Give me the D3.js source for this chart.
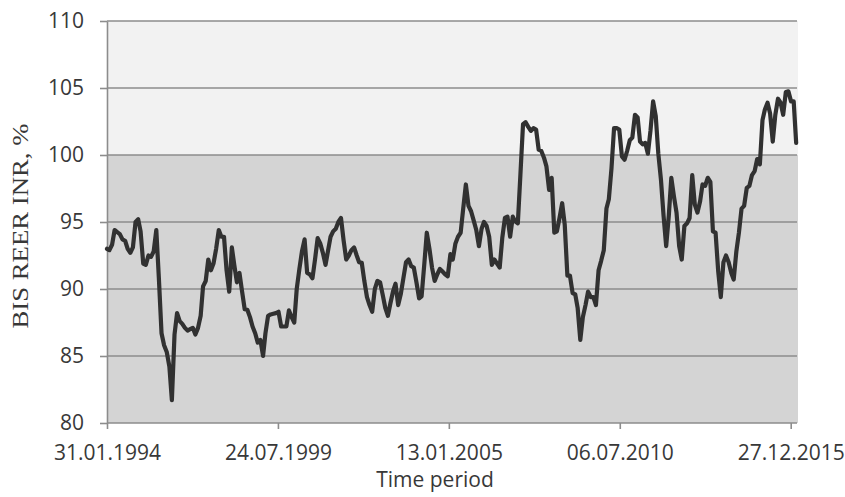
<!DOCTYPE html>
<html>
<head>
<meta charset="utf-8">
<script src="https://cdn.jsdelivr.net/npm/d3@7"></script>
<style>
  html, body { margin: 0; padding: 0; background: #ffffff; }
  svg { display: block; }
</style>
</head>
<body>
<script>
// ---- Data (monthly, end of month, starting 31.01.1994) ----
const startMonth = "1994-01";
const reer1994_1999 = [
  93.0, 92.9, 93.3, 94.4, 94.25, 94.1, 93.7, 93.6, 93.0, 92.7, 93.1, 95.0,
  95.2, 94.3, 91.9, 91.8, 92.5, 92.4, 92.8, 94.4, 90.8, 86.7, 85.8, 85.3,
  84.2, 81.7, 86.6, 88.2, 87.6, 87.4, 87.1, 86.9, 87.0, 87.1, 86.6, 87.1,
  88.0, 90.2, 90.6, 92.2, 91.4, 91.9, 93.0, 94.4, 93.9, 93.9, 91.4, 89.8,
  93.1, 91.8, 90.5, 91.2, 89.8, 88.5, 88.45, 87.9, 87.2, 86.7, 86.0, 86.2,
  85.0, 86.7, 88.0, 88.1, 88.15, 88.2, 88.3, 87.2, 87.2, 87.2, 88.4, 87.9
];
const reer2000_2005 = [
  87.5, 90.0, 91.5, 92.8, 93.7, 91.2, 91.1, 90.8, 92.2, 93.8, 93.4, 92.7,
  91.8, 92.8, 93.9, 94.3, 94.5, 95.0, 95.3, 93.6, 92.2, 92.5, 92.9, 93.1,
  92.5, 92.0, 91.95, 90.6, 89.4, 88.8, 88.3, 90.0, 90.6, 90.5, 89.6, 88.6,
  88.0, 88.9, 89.8, 90.4, 88.8, 89.6, 90.8, 92.0, 92.2, 91.7, 91.6, 90.5,
  89.3, 89.45, 91.8, 94.2, 93.0, 91.6, 90.6, 91.1, 91.5, 91.3, 91.1, 90.95,
  92.6, 92.2, 93.4, 93.9, 94.2, 96.0, 97.8, 96.2, 95.8, 95.1, 94.4, 93.2
];
const reer2006_2011 = [
  94.5, 95.0, 94.7, 93.9, 91.8, 92.2, 91.9, 91.6, 93.8, 95.3, 95.4, 93.9,
  95.4, 95.05, 94.9, 98.5, 102.3, 102.45, 102.1, 101.8, 102.0, 101.9, 100.4, 100.3,
  99.8, 99.15, 97.4, 98.3, 94.2, 94.3, 95.3, 96.4, 94.8, 91.0, 91.0, 89.7,
  89.6, 88.6, 86.2, 87.9, 88.8, 89.8, 89.4, 89.4, 88.8, 91.4, 92.1, 92.9,
  96.0, 96.7, 99.0, 102.0, 102.0, 101.9, 99.9, 99.65, 100.3, 101.1, 101.3, 103.0,
  102.8, 101.0, 100.8, 100.9, 100.1, 101.8, 104.0, 102.9, 100.1, 98.15, 95.5, 93.2
];
const reer2012_2016 = [
  95.5, 98.3, 96.9, 95.7, 93.2, 92.2, 94.7, 94.9, 95.3, 98.5, 96.3, 95.7,
  96.55, 97.8, 97.7, 98.3, 98.0, 94.3, 94.2, 91.3, 89.4, 92.0, 92.5, 92.0,
  91.2, 90.7, 92.8, 94.2, 96.0, 96.2, 97.55, 97.7, 98.5, 98.8, 99.7, 99.3,
  102.6, 103.4, 103.9, 103.1, 101.0, 103.0, 104.2, 103.9, 103.0, 104.7, 104.75, 104.0,
  104.0, 100.9
];
const xTickLabels = ["31.01.1994", "24.07.1999", "13.01.2005", "06.07.2010", "27.12.2015"];
const yTicks = [80, 85, 90, 95, 100, 105, 110];
const bands = [{from: 100, to: 110, color: "#f2f2f2"}, {from: 80, to: 100, color: "#d4d4d4"}];

// ---- Build series ----
const values = [].concat(reer1994_1999, reer2000_2005, reer2006_2011, reer2012_2016);
const firstOfMonth = d3.timeParse("%Y-%m")(startMonth);
const data = values.map((v, i) => ({
  date: d3.timeDay.offset(d3.timeMonth.offset(firstOfMonth, i + 1), -1),
  value: v
}));
const parseTick = d3.timeParse("%d.%m.%Y");
const tickDates = xTickLabels.map(parseTick);

// ---- Layout ----
const W = 845, H = 497;
const plot = {left: 107, right: 798, top: 21, bottom: 423};

const svg = d3.select("body").append("svg").attr("width", W).attr("height", H);

const x = d3.scaleTime()
  .domain([tickDates[0], tickDates[tickDates.length - 1]])
  .range([plot.left, 790.7]);
const y = d3.scaleLinear().domain([80, 110]).range([plot.bottom, plot.top]);

// Background bands
svg.append("g").selectAll("rect").data(bands).join("rect")
  .attr("x", plot.left)
  .attr("width", plot.right - plot.left)
  .attr("y", d => y(d.to))
  .attr("height", d => y(d.from) - y(d.to))
  .attr("fill", d => d.color);

// Gridlines
svg.append("g").selectAll("line").data(yTicks).join("line")
  .attr("x1", plot.left).attr("x2", plot.right - 1)
  .attr("y1", d => y(d)).attr("y2", d => y(d))
  .attr("stroke", "#8c8c8c").attr("stroke-width", 1.6);

// Y axis
const yAxis = svg.append("g")
  .attr("transform", `translate(${plot.left},0)`)
  .call(d3.axisLeft(y).tickValues(yTicks).tickSize(7).tickSizeOuter(0).tickPadding(16));
yAxis.select(".domain").attr("stroke", "#8c8c8c").attr("stroke-width", 1.6);
yAxis.selectAll(".tick line").attr("stroke", "#8c8c8c").attr("stroke-width", 1.6);
yAxis.selectAll(".tick text")
  .attr("font-family", "'Open Sans', sans-serif")
  .attr("font-size", 21)
  .attr("fill", "#383838");

// X axis
const xAxis = svg.append("g")
  .attr("transform", `translate(0,${plot.bottom})`)
  .call(d3.axisBottom(x).tickValues(tickDates).tickFormat(d3.timeFormat("%d.%m.%Y"))
    .tickSize(6).tickSizeOuter(0).tickPadding(16));
xAxis.select(".domain").remove();
xAxis.selectAll(".tick line").attr("stroke", "#8c8c8c").attr("stroke-width", 1.6);
xAxis.selectAll(".tick text")
  .attr("font-family", "'Open Sans', sans-serif")
  .attr("font-size", 21)
  .attr("fill", "#383838");

// Line
const line = d3.line().x(d => x(d.date)).y(d => y(d.value)).curve(d3.curveLinear);
svg.append("path")
  .datum(data)
  .attr("d", line)
  .attr("fill", "none")
  .attr("stroke", "#313131")
  .attr("stroke-width", 4.2)
  .attr("stroke-linejoin", "round")
  .attr("stroke-linecap", "round");

// Axis titles
svg.append("text")
  .attr("x", 435).attr("y", 487)
  .attr("text-anchor", "middle")
  .attr("font-family", "'Open Sans', sans-serif")
  .attr("font-size", 21)
  .attr("fill", "#383838")
  .text("Time period");

svg.append("text")
  .attr("transform", "translate(27.5,226) rotate(-90)")
  .attr("text-anchor", "middle")
  .attr("font-family", "'Liberation Serif', 'Times New Roman', serif")
  .attr("font-size", 24)
  .attr("textLength", 205)
  .attr("lengthAdjust", "spacingAndGlyphs")
  .attr("fill", "#383838")
  .text("BIS REER INR, %");
</script>
</body>
</html>
